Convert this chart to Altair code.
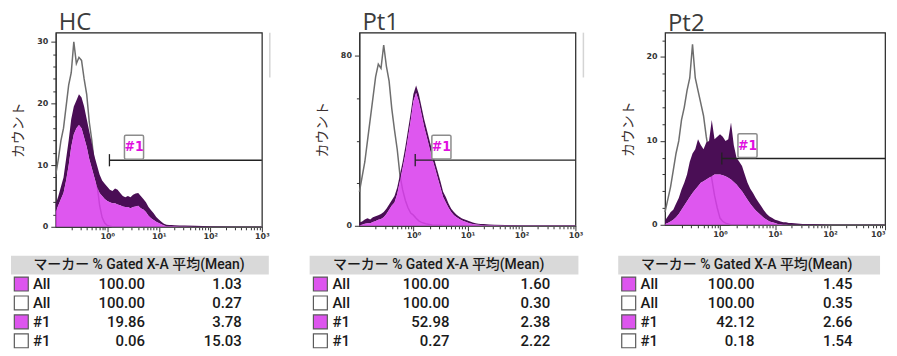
import altair as alt
import pandas as pd

# ---------------- data ----------------
LOG_X = [-1.00, -0.95, -0.90, -0.85, -0.80, -0.75, -0.70, -0.65, -0.60, -0.55,
         -0.50, -0.45, -0.40, -0.35, -0.30, -0.25, -0.20, -0.15, -0.10, -0.05,
         0.00, 0.05, 0.10, 0.15, 0.20, 0.25, 0.30, 0.35, 0.40, 0.45,
         0.50, 0.55, 0.60, 0.65, 0.70, 0.75, 0.80, 0.85, 0.90, 0.95,
         1.00, 1.05, 1.10, 1.15, 1.20, 1.25, 1.30, 1.40, 1.50, 1.70,
         2.00, 2.50, 3.00]

HC_GRAY = [8.5, 11, 14, 16, 19.5, 23, 25, 30, 26.5, 27.5,
           27, 24, 21.5, 17, 14, 10, 7, 3.5, 1.5, 0.6,
           0.2, 0.1, 0, 0, 0, 0, 0, 0, 0, 0,
           0, 0, 0, 0, 0, 0, 0, 0, 0, 0,
           0, 0, 0, 0, 0, 0, 0, 0, 0, 0,
           0, 0, 0]
HC_HI = [3.7, 5, 6.5, 8, 11, 14, 17.5, 19.5, 20.5, 21.5,
         21, 19.5, 17.5, 15.5, 13.5, 11.5, 10, 8.5, 7.5, 7,
         6.5, 6, 5.8, 6.2, 6, 5.5, 5, 4.8, 5, 4.8,
         5.2, 5.4, 5.5, 5, 4.5, 4, 3.2, 2.7, 2.2, 1.6,
         1.2, 0.8, 0.5, 0.35, 0.3, 0.3, 0.25, 0.2, 0.2, 0.15,
         0.1, 0.05, 0.05]
HC_LO = [2.5, 3.5, 4.5, 5.5, 7.5, 10, 13, 15, 16, 16.5,
         16, 14.5, 13, 11, 9.5, 8, 6.5, 5.5, 5, 4.5,
         4.2, 4, 3.8, 3.8, 3.6, 3.5, 3.3, 3.2, 3.2, 3,
         3.2, 3.3, 3.4, 3, 2.8, 2.4, 1.8, 1.4, 1.1, 0.8,
         0.6, 0.4, 0.2, 0.1, 0.1, 0.1, 0.1, 0.05, 0.05, 0,
         0, 0, 0]

PT1_GRAY = [16, 23, 30, 40, 50, 60, 70, 76, 74, 85,
            75, 68, 55, 45, 36, 24, 17, 12, 8.5, 6,
            5, 3.5, 2.3, 1.6, 1.2, 0.8, 0.6, 0.4, 0.3, 0.25,
            0.2, 0.15, 0.1, 0.1, 0.1, 0, 0, 0, 0, 0,
            0, 0, 0, 0, 0, 0, 0, 0, 0, 0,
            0, 0, 0]
PT1_HI = [1.5, 2, 3, 3.5, 3, 4, 4.5, 5, 5.5, 6.5,
          8, 10, 12, 14, 18, 24, 30, 37, 45, 53,
          62, 66, 62, 56, 50, 45, 40, 35, 30, 25.5,
          21, 16, 13.5, 10.5, 8, 6.5, 5.2, 4.2, 3.4, 3,
          2.5, 2, 1.5, 1.2, 1, 0.9, 0.8, 0.6, 0.5, 0.4,
          0.3, 0.3, 0.3]
PT1_LO = [0.3, 0.5, 1, 1.2, 1.2, 1.8, 2.2, 2.8, 3.2, 4,
          5.5, 7.5, 9.5, 11, 15, 21, 27, 33.5, 41.5, 49.5,
          58.5, 62.5, 58.5, 52.5, 46.5, 41.5, 36.5, 31.5, 27, 22.5,
          18, 13.5, 11, 8.5, 6.5, 5, 4, 3.2, 2.5, 2,
          1.5, 1.1, 0.8, 0.6, 0.5, 0.4, 0.3, 0.2, 0.2, 0.1,
          0.1, 0.1, 0.1]

PT2_GRAY = [1.5, 3, 4.5, 6.5, 8.5, 10, 12.5, 14, 16, 17.5,
            21.5, 17.5, 16, 14.5, 13, 10.5, 8.5, 5.5, 3.5, 2,
            0.8, 0.4, 0.2, 0.1, 0, 0, 0, 0, 0, 0,
            0, 0, 0, 0, 0, 0, 0, 0, 0, 0,
            0, 0, 0, 0, 0, 0, 0, 0, 0, 0,
            0, 0, 0]
PT2_HI = [0.5, 1, 1.5, 1.8, 2.5, 3.2, 4.2, 5, 6, 7.5,
          8.5, 9, 10.2, 9.5, 9, 9.8, 10, 12.5, 10.2, 10.5,
          10.8, 10.5, 10, 10.2, 12.2, 9.5, 8, 7.5, 7, 6,
          5, 4.3, 3.8, 3.2, 2.7, 2.2, 1.7, 1.3, 1, 0.8,
          0.6, 0.5, 0.4, 0.3, 0.3, 0.2, 0.2, 0.15, 0.1, 0.1,
          0.05, 0.05, 0.05]
PT2_LO = [0.1, 0.2, 0.4, 0.6, 0.9, 1.3, 1.8, 2.3, 2.8, 3.3,
          3.8, 4.2, 4.6, 5, 5.2, 5.4, 5.6, 5.8, 6, 6,
          6, 5.9, 5.8, 5.6, 5.4, 5.1, 4.8, 4.4, 4, 3.5,
          3, 2.5, 2.1, 1.7, 1.4, 1.1, 0.8, 0.6, 0.4, 0.3,
          0.2, 0.1, 0.1, 0.05, 0.05, 0, 0, 0, 0, 0,
          0, 0, 0]

PANELS = ["HC", "Pt1", "Pt2"]
Y_MAX = [31.5, 90.8, 22.9]
GATE_START = [1.1, 1.08, 1.08]
GATE_LEVEL = [10.8, 30.9, 7.9]
GATE_LABEL_X = [3.3, 3.3, 3.16]

HEADER = "マーカー % Gated X-A 平均(Mean)"
MARKERS = ["All", "All", "#1", "#1"]
FILLED = [True, False, True, False]
HC_PCT = [100.00, 100.00, 19.86, 0.06]
HC_MEAN = [1.03, 0.27, 3.78, 15.03]
PT1_PCT = [100.00, 100.00, 52.98, 0.27]
PT1_MEAN = [1.60, 0.30, 2.38, 2.22]
PT2_PCT = [100.00, 100.00, 42.12, 0.18]
PT2_MEAN = [1.45, 0.35, 2.66, 1.54]

for s in [HC_GRAY, HC_HI, HC_LO, PT1_GRAY, PT1_HI, PT1_LO, PT2_GRAY, PT2_HI, PT2_LO]:
    assert len(s) == len(LOG_X), len(s)

# ---------------- style ----------------
MAG = "#d83aec"
DARK = "#4a0e55"
GRAY = "#6e6e6e"
LABEL = "#e010e0"
X_TICKS = [0.2, 0.3, 0.4, 0.5, 0.6, 0.7, 0.8, 0.9,
           1, 2, 3, 4, 5, 6, 7, 8, 9,
           10, 20, 30, 40, 50, 60, 70, 80, 90,
           100, 200, 300, 400, 500, 600, 700, 800, 900, 1000]
X_MAJOR = "datum.value == 1 || datum.value == 10 || datum.value == 100 || datum.value == 1000"
X_LABELS = ("datum.value == 1 ? '10⁰' : datum.value == 10 ? '10¹' : "
            "datum.value == 100 ? '10²' : datum.value == 1000 ? '10³' : ''")
ROUNDED = ("M-0.68,-1 L0.68,-1 Q0.8,-1 0.8,-0.88 L0.8,0.88 Q0.8,1 0.68,1 "
           "L-0.68,1 Q-0.8,1 -0.8,0.88 L-0.8,-0.88 Q-0.8,-1 -0.68,-1 Z")
TABLE_FONT = "Roboto, Noto Sans CJK JP"


def histogram(i, gray, hi, lo, yvals, ymajor, width, height, ghost, flush_last=False):
    df = pd.DataFrame({"x": [10 ** v for v in LOG_X], "gray": gray, "hi": hi, "lo": lo})
    ytest = " || ".join(f"datum.value == {v}" for v in ymajor)
    xs = alt.Scale(type="log", domain=[0.1, 1000], nice=False, padding=0)
    ys = alt.Scale(domain=[0, Y_MAX[i]], nice=False, padding=0)
    xax = alt.Axis(values=X_TICKS, labelExpr=X_LABELS, labelOverlap=False,
                   labelFlush=flush_last,
                   tickSize={"condition": {"test": X_MAJOR, "value": 5}, "value": 3},
                   labelPadding=1, title=None)
    yax = alt.Axis(values=yvals, labelExpr=f"({ytest}) ? datum.label : ''", labelOverlap=False,
                   tickSize={"condition": {"test": ytest, "value": 5}, "value": 3},
                   labelPadding=3, title="カウント", titleX=-37, titleY=height / 2,
                   titleBaseline="middle")
    X = alt.X("x:Q", scale=xs, axis=xax)
    base = alt.Chart(df)
    gray_l = base.mark_line(color=GRAY, strokeWidth=1.5).encode(
        x=X, y=alt.Y("gray:Q", scale=ys, axis=yax))
    band = base.mark_area(color=DARK).encode(
        x=X, y=alt.Y("hi:Q", scale=ys, axis=yax), y2="lo:Q")
    fill = base.mark_area(color=MAG, opacity=0.85).encode(
        x=X, y=alt.Y("lo:Q", scale=ys, axis=yax))

    gdf = pd.DataFrame({"x": [GATE_START[i]], "x2": [1000], "y": [GATE_LEVEL[i]],
                        "lx": [GATE_LABEL_X[i]]})
    g = alt.Chart(gdf)
    GY = alt.Y("y:Q", scale=ys, axis=yax)
    rule = g.mark_rule(color="#222", strokeWidth=1.3).encode(x=X, x2="x2:Q", y=GY)
    tick = g.mark_point(shape="M0,-1L0,1", size=150, color="#222", strokeWidth=1.3,
                        filled=False, opacity=1).encode(x=X, y=GY)
    LX = alt.X("lx:Q", scale=xs, axis=xax)
    box = g.mark_point(shape=ROUNDED, size=576, filled=True, fill="white", stroke="#8c8c8c",
                       strokeWidth=1.5, opacity=1, yOffset=-13).encode(x=LX, y=GY)
    lab = g.mark_text(text="#1", color=LABEL, fontSize=14, fontWeight="bold",
                      font="DejaVu Sans Condensed, DejaVu Sans", dy=-13).encode(x=LX, y=GY)
    layers = [gray_l, band, fill, rule, tick, box, lab]
    if ghost:
        layers.append(g.mark_rule(color="#d4d4d4", strokeWidth=1.5).encode(
            x=alt.value(width + 8), y=alt.value(0), y2=alt.value(45)))
    return alt.layer(*layers).properties(
        width=width, height=height,
        title=alt.Title(PANELS[i], anchor="start", frame="group", fontSize=24,
                        font="Open Sans", fontWeight="normal", color="#3c3c3c",
                        offset=-3, dx=3),
        view=alt.ViewBackground(stroke="#222", strokeWidth=1.2))


def table(pct, mean, w):
    rows = ["r1", "r2", "r3", "r4"]
    df = pd.DataFrame({"row": rows, "marker": MARKERS, "filled": FILLED,
                       "pct": pct, "mean": mean})
    hdf = pd.DataFrame({"row": ["h"], "text": [HEADER]})
    Y = alt.Y("row:N", scale=alt.Scale(domain=["h"] + rows, paddingInner=0, paddingOuter=0),
              axis=None)
    band = alt.Chart(hdf).mark_rect(color="#d9d9d9").encode(
        y=Y, x=alt.value(0), x2=alt.value(w))
    head = alt.Chart(hdf).mark_text(align="left", font=TABLE_FONT, fontSize=14,
                                    fontWeight=500, color="#1a1a1a").encode(
        y=Y, x=alt.value(0.087 * w), text="text:N")
    t = alt.Chart(df)
    box = t.mark_square(size=196, opacity=1, stroke="#5a5a5a", strokeWidth=1.2).encode(
        y=Y, x=alt.value(0.04 * w),
        fill=alt.condition("datum.filled", alt.value("#dd55ee"), alt.value("white")))
    common = dict(font=TABLE_FONT, fontSize=15, fontWeight=500, color="#1a1a1a")
    mk = t.mark_text(align="left", **common).encode(
        y=Y, x=alt.value(0.085 * w), text="marker:N")
    pc = t.mark_text(align="right", **common).encode(
        y=Y, x=alt.value(0.52 * w), text=alt.Text("pct:Q", format=".2f"))
    mn = t.mark_text(align="right", **common).encode(
        y=Y, x=alt.value(0.895 * w), text=alt.Text("mean:Q", format=".2f"))
    return alt.layer(band, head, box, mk, pc, mn).properties(
        width=w, height=95, view=alt.ViewBackground(stroke="transparent"))


def spacer(w):
    return alt.Chart(pd.DataFrame({"a": [0]})).mark_point(opacity=0, size=1).encode(
        x=alt.value(2), y=alt.value(2)).properties(
        width=w, height=10, view=alt.ViewBackground(stroke="transparent"))


hc = histogram(0, HC_GRAY, HC_HI, HC_LO, list(range(0, 32, 2)), [0, 10, 20, 30], 207, 195, True)
pt1 = histogram(1, PT1_GRAY, PT1_HI, PT1_LO, [0, 20, 40, 60, 80], [0, 80], 217, 194, True)
pt2 = histogram(2, PT2_GRAY, PT2_HI, PT2_LO, list(range(0, 24, 2)), [0, 10, 20], 221, 193,
                False, flush_last=True)

t1 = table(HC_PCT, HC_MEAN, 259)
t2 = table(PT1_PCT, PT1_MEAN, 270)
t3 = table(PT2_PCT, PT2_MEAN, 263)

row1 = alt.hconcat(spacer(47), hc, spacer(98), pt1, spacer(90), pt2, spacing=0, bounds="flush")
row2 = alt.hconcat(spacer(2), t1, spacer(41), t2, spacer(40), t3, spacing=0, bounds="flush")

chart = alt.vconcat(row1, row2, spacing=13).properties(
    padding={"top": 1, "left": 0, "right": 0, "bottom": 0}, background="white"
).configure_axis(
    labelFont="DejaVu Sans", labelFontSize=8, labelFontWeight="bold", labelColor="#333",
    tickColor="#333", domainColor="#333", grid=False,
    titleFont="Noto Sans CJK JP", titleFontSize=14, titleFontWeight="normal",
    titleColor="#3b3030"
)

chart.save("out.html", embed_options={"renderer": "svg", "actions": False})
